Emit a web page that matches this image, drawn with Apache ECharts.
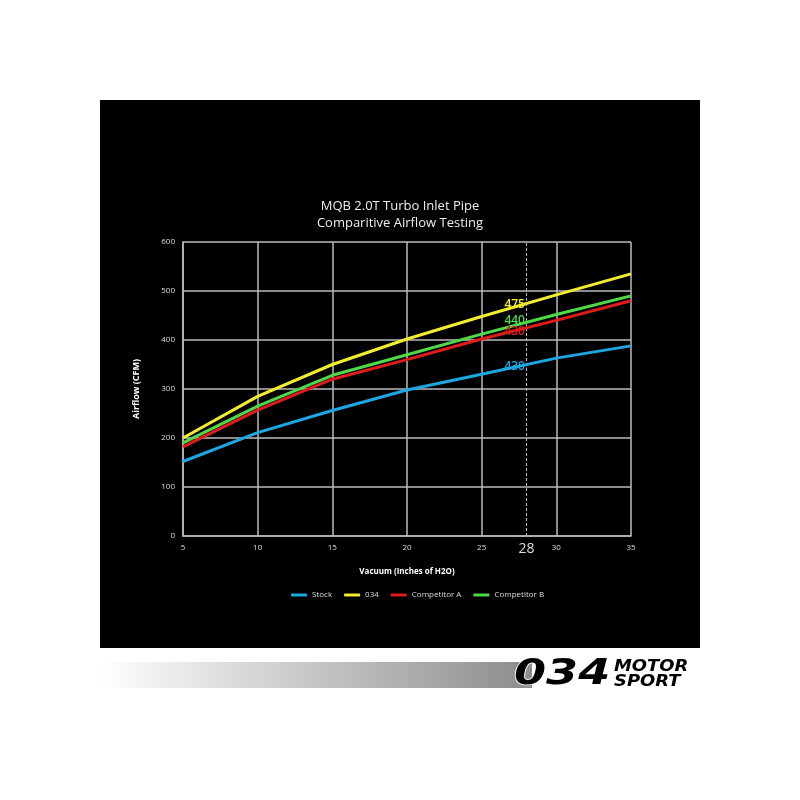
<!DOCTYPE html>
<html><head><meta charset="utf-8">
<script src="https://cdn.jsdelivr.net/npm/echarts@6/dist/echarts.min.js"></script>
<style>html,body{margin:0;padding:0;background:#fff}#c{width:800px;height:800px}</style>
</head><body><div id="c"></div>
<script>
const vacuum = [5, 10, 15, 20, 25, 30, 35];
const stock = [152, 211, 256, 298, 330, 363, 388];
const s034 = [200, 285, 350, 402, 448, 492, 535];
const compA = [182, 257, 320, 360, 402, 440, 480];
const compB = [190, 265, 328, 370, 412, 452, 490];
const seriesNames = ['Stock', '034', 'Competitor A', 'Competitor B'];
const markX = 28;
// label text shown at x=28 (as printed in the original) and the y value where it sits
const markText = ['430', '475', '430', '440'];
const markY = [345, 473, 417, 439];

const colors = ['#1ca6e2', '#f3ee2d', '#e01b1b', '#4fd84a'];
const allData = [stock, s034, compA, compB];
const font = 'Open Sans';

const chart = echarts.init(document.getElementById('c'), null, {renderer: 'canvas'});
const zs = [5, 8, 6, 7];
const series = allData.map((d, i) => {
  const s = {
    name: seriesNames[i],
    type: 'line',
    data: vacuum.map((x, j) => [x, d[j]]),
    symbol: 'none',
    lineStyle: {width: 3, color: colors[i]},
    itemStyle: {color: colors[i]},
    z: zs[i]
  };
  if (i === 0) {
    s.markLine = {
      symbol: 'none', silent: true,
      lineStyle: {type: [3, 2], color: '#bbb', width: 1},
      label: {show: true, position: 'start', distance: 6, color: '#ddd', fontSize: 14, fontFamily: font, formatter: String(markX)},
      data: [{xAxis: markX}]
    };
  }
  return s;
});
allData.forEach((d, i) => {
  series.push({
    name: seriesNames[i] + ' label',
    type: 'scatter',
    data: [[markX, markY[i]]],
    symbolSize: 1,
    itemStyle: {color: colors[i], opacity: 1},
    z: 20, zlevel: 1,
    silent: true,
    label: {show: true, position: 'left', distance: 1, color: colors[i], fontSize: 12, fontWeight: 600, fontFamily: font,
      textBorderWidth: 0, opacity: 1, formatter: () => markText[i]}
  });
});

chart.setOption({
  backgroundColor: '#ffffff',
  animation: false,
  color: colors,
  graphic: [
    {type: 'rect', shape: {x: 100, y: 100, width: 600, height: 548}, style: {fill: '#000'}, z: -10, silent: true},
    {type: 'rect', shape: {x: 100, y: 662, width: 432, height: 26},
      style: {fill: new echarts.graphic.LinearGradient(0, 0, 1, 0, [{offset: 0, color: '#ffffff'}, {offset: 1, color: '#8c8c8c'}])}, z: -10, silent: true},
    {type: 'text', x: 514, y: 657, scaleX: 1.28, style: {text: '034', font: 'italic bold 36px "DejaVu Sans"', fill: '#000', stroke: '#fff', lineWidth: 1.5}, z: 10},
    {type: 'text', x: 614, y: 659, scaleX: 1.12, style: {text: 'MOTOR', font: 'italic 900 16px "DejaVu Sans"', fill: '#000', stroke: '#fff', lineWidth: 1}, z: 10},
    {type: 'text', x: 614, y: 674, scaleX: 1.12, style: {text: 'SPORT', font: 'italic 900 16px "DejaVu Sans"', fill: '#000', stroke: '#fff', lineWidth: 1}, z: 10}
  ],
  title: {
    text: 'MQB 2.0T Turbo Inlet Pipe\nComparitive Airflow Testing',
    left: 'center', top: 193,
    textStyle: {color: '#eee', fontSize: 13, fontWeight: 'normal', fontFamily: font, lineHeight: 17}
  },
  legend: {
    data: seriesNames, bottom: 196, left: 286,
    icon: 'roundRect', itemWidth: 16, itemHeight: 3, itemGap: 12,
    textStyle: {color: '#ddd', fontSize: 8, fontFamily: font}
  },
  grid: {left: 183, right: 169, top: 242, bottom: 264},
  xAxis: {
    type: 'value', min: 5, max: 35, interval: 5,
    name: 'Vacuum (Inches of H2O)', nameLocation: 'middle', nameGap: 32,
    nameTextStyle: {color: '#fff', fontSize: 8, fontWeight: 'bold', fontFamily: font},
    axisLine: {show: true, lineStyle: {color: '#bbb', width: 1.5}},
    axisTick: {show: false},
    axisLabel: {color: '#ddd', fontSize: 8, fontFamily: font, margin: 8},
    splitLine: {show: true, lineStyle: {color: '#bbb', width: 1.5}}
  },
  yAxis: {
    type: 'value', min: 0, max: 600, interval: 100,
    name: 'Airflow (CFM)', nameLocation: 'middle', nameGap: 42, nameRotate: 90,
    nameTextStyle: {color: '#fff', fontSize: 9, fontWeight: 'bold', fontFamily: font},
    axisLine: {show: true, lineStyle: {color: '#bbb', width: 1.5}},
    axisTick: {show: false},
    axisLabel: {color: '#ddd', fontSize: 8, fontFamily: font, margin: 8},
    splitLine: {show: true, lineStyle: {color: '#bbb', width: 1.5}}
  },
  series: series
});
</script></body></html>
